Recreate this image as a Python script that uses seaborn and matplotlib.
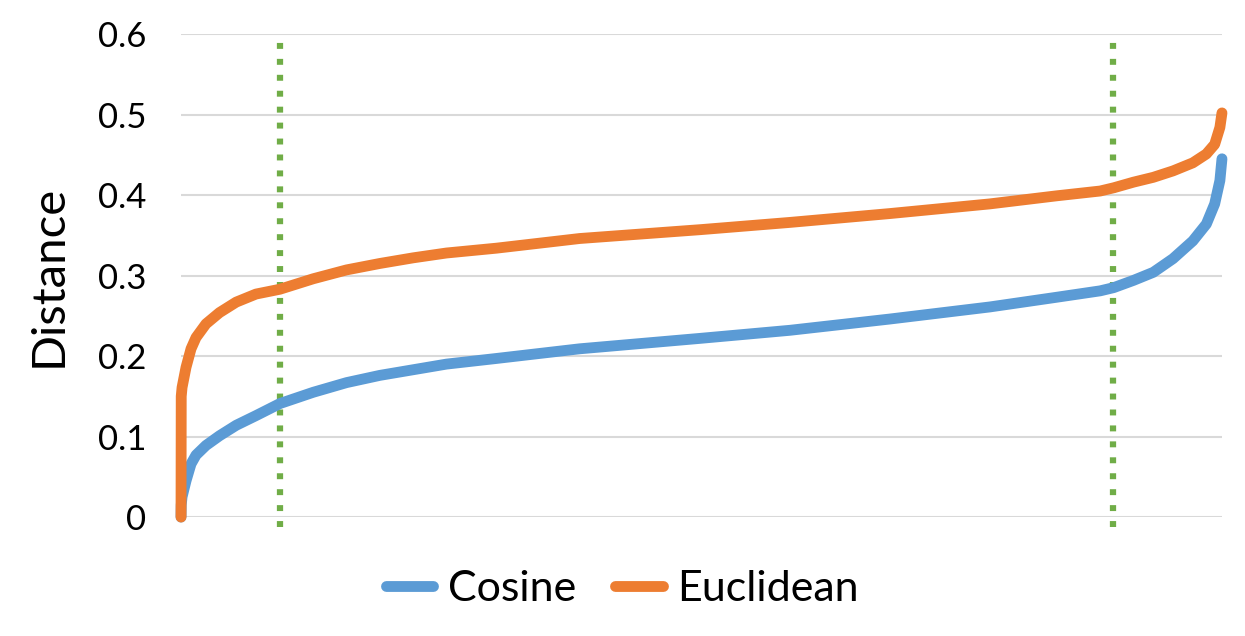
import matplotlib
matplotlib.use("Agg")
import matplotlib.pyplot as plt
import pandas as pd
import seaborn as sns

# percentile of sorted pairs (x) and distance values
pct = [0, 0.02, 0.1, 0.48, 0.96, 1.44, 2.4, 3.7, 5.3, 7.2, 9.5, 12.7, 15.9,
       19.1, 22.3, 25.5, 30.3, 38.3, 49.9, 58.5, 68.1, 77.7, 84.1, 88.3,
       89.6, 91.5, 93.4, 95.3, 97.2, 98.5, 99.3, 99.8, 100]
cosine = [0, 0.015, 0.025, 0.045, 0.066, 0.077, 0.089, 0.101, 0.114, 0.126,
          0.141, 0.155, 0.167, 0.176, 0.183, 0.190, 0.197, 0.209, 0.222,
          0.232, 0.246, 0.261, 0.273, 0.281, 0.285, 0.294, 0.304, 0.321,
          0.343, 0.364, 0.389, 0.418, 0.445]
euclidean = [0, 0.15, 0.161, 0.186, 0.209, 0.223, 0.240, 0.254, 0.267, 0.277,
             0.283, 0.296, 0.307, 0.315, 0.322, 0.328, 0.334, 0.346, 0.357,
             0.366, 0.377, 0.389, 0.399, 0.405, 0.409, 0.416, 0.422, 0.430,
             0.440, 0.451, 0.463, 0.484, 0.502]
marker_pct = [9.5, 89.5]
series_names = ["Cosine", "Euclidean"]
y_ticks = [0, 0.1, 0.2, 0.3, 0.4, 0.5, 0.6]
y_tick_labels = ["0", "0.1", "0.2", "0.3", "0.4", "0.5", "0.6"]

df = pd.concat([
    pd.DataFrame({"pct": pct, "Distance": cosine, "series": "Cosine"}),
    pd.DataFrame({"pct": pct, "Distance": euclidean, "series": "Euclidean"}),
])

sns.set_style("white")
plt.rcParams["font.family"] = ["Lato", "DejaVu Sans"]

fig = plt.figure(figsize=(12.45, 6.36), dpi=100)
ax = fig.add_axes([0.1454, 0.187, 0.8361, 0.7595])

palette = {"Cosine": "#5B9BD5", "Euclidean": "#ED7D31"}
sns.lineplot(data=df, x="pct", y="Distance", hue="series", hue_order=series_names,
             palette=palette, estimator=None, linewidth=7.8, ax=ax,
             solid_capstyle="round", solid_joinstyle="round", legend=False)
for line in ax.get_lines():
    line.set_clip_on(False)

# dotted green markers at the two cut-off percentiles
for x in marker_pct:
    ax.axvline(x, ymin=-0.02, ymax=1.0, color="#70AD47", linewidth=4.5,
               linestyle=(0, (0.95, 1.6)), clip_on=False, zorder=1)

ax.set_xlim(0, 100)
ax.set_ylim(0, 0.6)
ax.set_xticks([])
ax.set_yticks(y_ticks)
ax.set_yticklabels(y_tick_labels, fontsize=25, color="black")
ax.tick_params(axis="y", length=0, pad=25)
ax.grid(axis="y", color="#D9D9D9", linewidth=1.5)
ax.set_axisbelow(True)
for s in ax.spines.values():
    s.set_visible(False)
ax.set_xlabel("")
ax.set_ylabel("Distance", fontsize=34, labelpad=20, color="black")

handles = [plt.Line2D([], [], color=palette[n], linewidth=7.8,
                      solid_capstyle="round") for n in series_names]
fig.legend(handles, series_names, loc="center", bbox_to_anchor=(0.5, 0.074),
           ncol=2, frameon=False, fontsize=31, handlelength=1.1,
           handletextpad=0.35, columnspacing=0.9, labelcolor="black")

fig.savefig("out.png", dpi=100)
